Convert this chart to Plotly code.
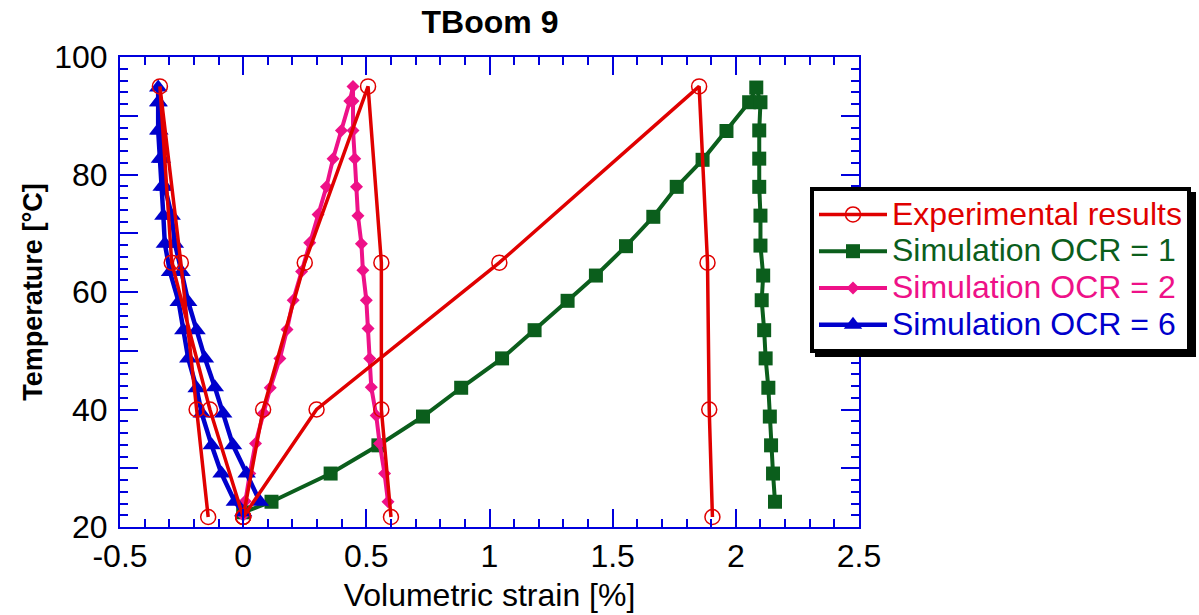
import plotly.graph_objects as go

# Experimental results (three heating/cooling tests, separated by gaps)
exp_strain = [0.0, -0.135, -0.29, -0.338, -0.253, -0.189, -0.142, None,
              0.0, 0.081, 0.25, 0.507, 0.561, 0.561, 0.60, None,
              0.0, 0.298, 1.04, 1.851, 1.885, 1.892, 1.905]
exp_temp = [21.7, 40, 65, 95, 65, 40, 21.7, None,
            21.7, 40, 65, 95, 65, 40, 21.7, None,
            21.7, 40, 65, 95, 65, 40, 21.7]

# Simulation OCR = 1
ocr1_strain = [0.0, 0.115, 0.355, 0.549, 0.73, 0.885, 1.051, 1.183, 1.317, 1.432,
               1.554, 1.665, 1.76, 1.865, 1.962, 2.054, 2.083,
               2.10, 2.095, 2.095, 2.095, 2.10, 2.10, 2.111, 2.105, 2.115, 2.121,
               2.132, 2.138, 2.143, 2.151, 2.159]
ocr1_temp = [22.5, 24.3, 29.1, 33.9, 38.8, 43.7, 48.7, 53.5, 58.5, 62.8,
             67.8, 72.8, 77.9, 82.5, 87.4, 92.3, 94.8,
             92.3, 87.5, 82.7, 77.9, 73.0, 67.9, 62.8, 58.6, 53.5, 48.7,
             43.7, 38.8, 33.9, 29.1, 24.3]

# Simulation OCR = 2
ocr2_strain = [0.0, 0.008, 0.027, 0.05, 0.083, 0.11, 0.149, 0.178, 0.203, 0.237,
               0.27, 0.304, 0.338, 0.365, 0.399, 0.433, 0.446,
               0.446, 0.446, 0.453, 0.46, 0.466, 0.48, 0.486, 0.50, 0.507, 0.514,
               0.52, 0.54, 0.554, 0.574, 0.588]
ocr2_temp = [22.0, 24.4, 29.1, 34.2, 39.4, 43.7, 48.7, 53.6, 58.6, 63.5,
             68.4, 73.2, 77.9, 82.7, 87.5, 92.5, 95.0,
             92.5, 87.5, 82.7, 77.9, 73.0, 68.2, 63.7, 58.6, 53.8, 48.7,
             43.8, 39.0, 34.2, 29.1, 24.3]

# Simulation OCR = 6
ocr6_strain = [0.0, -0.034, -0.088, -0.128, -0.168, -0.189, -0.223, -0.243, -0.262, -0.297,
               -0.318, -0.324, -0.331, -0.338, -0.345, -0.345, -0.345,
               -0.343, -0.34, -0.33, -0.318, -0.29, -0.277, -0.25, -0.223, -0.189, -0.155,
               -0.115, -0.081, -0.041, 0.014, 0.068]
ocr6_temp = [22.5, 24.3, 29.1, 33.9, 39.3, 43.6, 48.7, 53.5, 58.3, 63.4,
             68.2, 73.0, 77.9, 82.7, 87.5, 92.3, 94.8,
             92.3, 87.5, 82.7, 77.9, 73.0, 68.2, 63.4, 58.3, 53.5, 48.7,
             43.8, 39.3, 33.9, 29.1, 24.3]

x_ticks = [-0.5, 0, 0.5, 1, 1.5, 2, 2.5]
x_labels = ["-0.5", "0", "0.5", "1", "1.5", "2", "2.5"]
y_ticks = [20, 30, 40, 50, 60, 70, 80, 90, 100]
y_labels = ["20", "", "40", "", "60", "", "80", "", "100"]

RED = "#e00000"
GREEN = "#0b5e1c"
PINK = "#ee1188"
BLUE = "#0000cc"
AXIS = "#0000dd"

W, H = 1199, 615
L, R, T, B = 120, 340, 57, 88
PW, PH = W - L - R, H - T - B


def px_x(p):
    return (p - L) / PW


def px_y(p):
    return (H - B - p) / PH


def label(text, color):
    return f'<span style="color:{color};font-size:32px">{text}</span>'


fig = go.Figure()

fig.add_trace(go.Scatter(
    x=ocr1_strain, y=ocr1_temp, mode="lines+markers",
    name=label("Simulation OCR = 1", GREEN), legendrank=2,
    line=dict(color=GREEN, width=4),
    marker=dict(symbol="square", size=14, color=GREEN),
))
fig.add_trace(go.Scatter(
    x=ocr2_strain, y=ocr2_temp, mode="lines+markers",
    name=label("Simulation OCR = 2", PINK), legendrank=3,
    line=dict(color=PINK, width=4),
    marker=dict(symbol="diamond", size=10, color=PINK),
))
fig.add_trace(go.Scatter(
    x=ocr6_strain, y=ocr6_temp, mode="lines+markers",
    name=label("Simulation OCR = 6", BLUE), legendrank=4,
    line=dict(color=BLUE, width=4.5),
    marker=dict(symbol="triangle-up", size=16, color=BLUE),
))
fig.add_trace(go.Scatter(
    x=exp_strain, y=exp_temp, mode="lines+markers",
    name=label("Experimental results", RED), legendrank=1,
    line=dict(color=RED, width=3.5),
    marker=dict(symbol="circle-open", size=15, color=RED, line=dict(width=1.5, color=RED)),
    connectgaps=False,
))

tick_font = dict(family="Liberation Sans, Arial", size=32, color="black")

axis_common = dict(
    showline=True, linecolor=AXIS, linewidth=2, mirror="ticks",
    ticks="inside", ticklen=18, tickwidth=2, tickcolor=AXIS,
    showgrid=False, zeroline=False, tickfont=tick_font,
)

fig.update_xaxes(
    range=[-0.5, 2.5], tickvals=x_ticks, ticktext=x_labels,
    minor=dict(ticks="inside", ticklen=8, tickwidth=2, tickcolor=AXIS, dtick=0.1, showgrid=False),
    title=dict(text="Volumetric strain [%]", font=dict(family="Liberation Sans, Arial", size=32, color="black"), standoff=10),
    ticklabelstandoff=0,
    **axis_common,
)
fig.update_yaxes(
    range=[20, 100], tickvals=y_ticks, ticktext=y_labels,
    minor=dict(ticks="inside", ticklen=8, tickwidth=2, tickcolor=AXIS, dtick=2, showgrid=False),
    title=dict(text="<b>Temperature [°C]</b>", font=dict(family="Liberation Sans, Arial", size=27, color="black"), standoff=4),
    ticklabelstandoff=4,
    **axis_common,
)

# drop shadow behind the legend box
fig.add_shape(
    type="rect", xref="paper", yref="paper",
    x0=px_x(815), x1=px_x(1196), y0=px_y(357), y1=px_y(192),
    fillcolor="black", line=dict(width=0), layer="above",
)

fig.update_layout(
    width=W, height=H,
    margin=dict(l=L, r=R, t=T, b=B, autoexpand=False),
    paper_bgcolor="white", plot_bgcolor="white",
    title=dict(text="<b>TBoom 9</b>", x=490 / W, xanchor="center",
               y=1 - 22 / H, yanchor="middle", yref="container",
               font=dict(family="Liberation Sans, Arial", size=32, color="black")),
    legend=dict(
        x=px_x(810), y=px_y(187), xanchor="left", yanchor="top",
        bgcolor="white", bordercolor="black", borderwidth=4,
        font=dict(family="Liberation Sans, Arial", size=26),
        itemwidth=68, traceorder="normal",
    ),
    showlegend=True,
)

fig.write_html("out.html")
